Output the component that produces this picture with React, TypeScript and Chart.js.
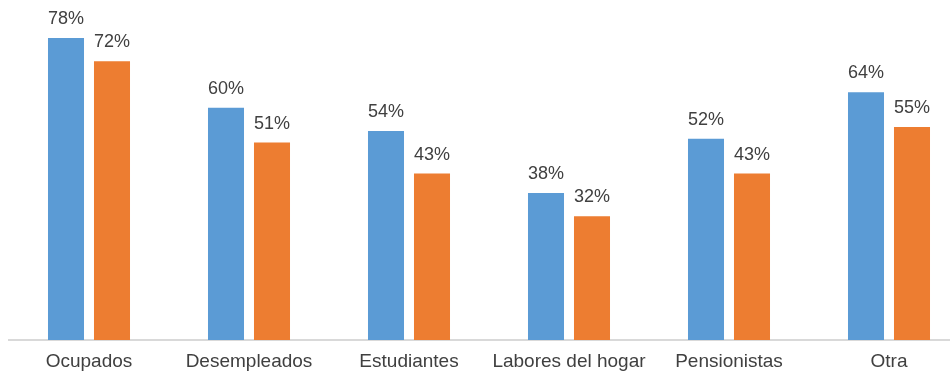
import React, { useEffect, useRef } from "react";
import { Chart, registerables } from "chart.js";

Chart.register(...registerables);

const categories = ["Ocupados", "Desempleados", "Estudiantes", "Labores del hogar", "Pensionistas", "Otra"];
const seriesA = [78, 60, 54, 38, 52, 64];
const seriesB = [72, 51, 43, 32, 43, 55];

const FONT = "'Liberation Sans', Arial, Helvetica, sans-serif";
const TEXT = "#404040";

const valueLabels = {
  id: "valueLabels",
  afterDatasetsDraw(chart: any) {
    const ctx = chart.ctx;
    ctx.save();
    ctx.font = `18px ${FONT}`;
    ctx.fillStyle = TEXT;
    ctx.textAlign = "center";
    ctx.textBaseline = "alphabetic";
    chart.data.datasets.forEach((ds: any, di: number) => {
      const meta = chart.getDatasetMeta(di);
      meta.data.forEach((bar: any, i: number) => {
        ctx.fillText(`${ds.data[i]}%`, bar.x, bar.y - 14);
      });
    });
    ctx.restore();
  },
};

export default function App() {
  const ref = useRef<HTMLCanvasElement>(null);
  useEffect(() => {
    if (!ref.current) return;
    const chart = new Chart(ref.current, {
      type: "bar",
      data: {
        labels: categories,
        datasets: [
          { data: seriesA, backgroundColor: "#5B9BD5", categoryPercentage: 0.575, barPercentage: 0.783 },
          { data: seriesB, backgroundColor: "#ED7D31", categoryPercentage: 0.575, barPercentage: 0.783 },
        ],
      },
      options: {
        responsive: false,
        animation: false,
        layout: { padding: { top: 11, left: 9, right: 0, bottom: 0 } },
        plugins: { legend: { display: false }, tooltip: { enabled: false } },
        scales: {
          x: {
            grid: { display: false },
            border: { display: true, color: "#d9d9d9", width: 2 },
            ticks: { color: TEXT, font: { family: FONT, size: 19 }, padding: 2, maxRotation: 0, autoSkip: false },
            afterFit(scale: any) {
              scale.height = 34;
            },
          },
          y: {
            display: false,
            min: 0,
            max: 85,
          },
        },
      },
      plugins: [valueLabels],
    });
    return () => chart.destroy();
  }, []);
  return (
    <div style={{ position: "absolute", left: 0, top: 0, width: 950, height: 374, overflow: "hidden", background: "#fff" }}>
      <canvas ref={ref} width={969} height={374} style={{ display: "block", width: 969, height: 374 }} />
    </div>
  );
}
